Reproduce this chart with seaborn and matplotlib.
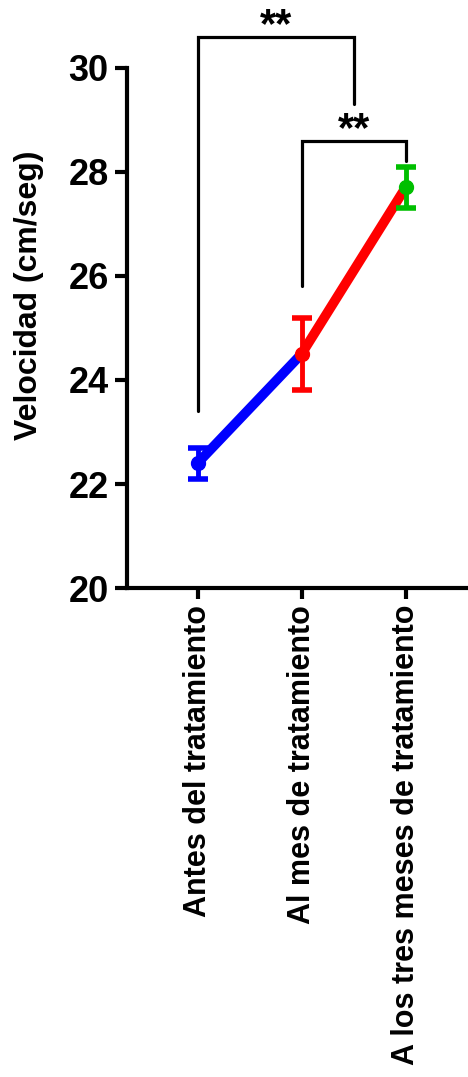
import matplotlib
matplotlib.use("Agg")
import matplotlib.pyplot as plt
import seaborn as sns
import pandas as pd

momentos = ["Antes del tratamiento", "Al mes de tratamiento", "A los tres meses de tratamiento"]
velocidad = [22.4, 24.5, 27.7]
error = [0.3, 0.7, 0.4]
colores = ["#0000FF", "#FF0000", "#00BF00"]

# comparaciones: (desde, hasta, altura_izq, altura_der, techo, texto)
comparaciones = [
    (0, 1.5, 23.4, 29.3, 30.6, "**"),
    (1, 2, 25.8, 28.2, 28.6, "**"),
]

sns.set_style("ticks")
plt.rcParams["font.family"] = ["Liberation Sans", "DejaVu Sans"]
plt.rcParams["font.weight"] = "bold"
plt.rcParams["text.color"] = "black"
plt.rcParams["axes.labelcolor"] = "black"
plt.rcParams["xtick.color"] = "black"
plt.rcParams["ytick.color"] = "black"
plt.rcParams["axes.edgecolor"] = "black"

fig = plt.figure(figsize=(4.68, 10.77), dpi=100)
ax = fig.add_axes([0.271, 0.454, 0.729, 0.483])

# tramos de la linea (azul y rojo)
tramos = pd.DataFrame({
    "pos": [0, 1, 1, 2],
    "valor": [velocidad[0], velocidad[1], velocidad[1], velocidad[2]],
    "tramo": ["a", "a", "b", "b"],
})
sns.lineplot(data=tramos, x="pos", y="valor", hue="tramo", palette=colores[:2],
             lw=7, legend=False, ax=ax, solid_capstyle="butt")

for i, (v, e, c) in enumerate(zip(velocidad, error, colores)):
    eb = ax.errorbar(i, v, yerr=e, fmt="o", color=c, ms=10, elinewidth=3.5,
                     capsize=7, capthick=4, zorder=5)
    for cap in eb[1]:
        cap.set_solid_capstyle("round")

for x0, x1, h0, h1, techo, texto in comparaciones:
    ax.plot([x0, x0, x1, x1], [h0, techo, techo, h1], color="black", lw=2.3,
            clip_on=False, solid_joinstyle="miter", zorder=6)
    ax.text((x0 + x1) / 2, techo + 0.0, texto, ha="center", va="baseline",
            fontsize=30, fontweight="bold", clip_on=False)

ax.set_xlim(-0.68, 2.6)
ax.set_ylim(20, 30)
ax.set_yticks([20, 22, 24, 26, 28, 30])
ax.set_xticks([0, 1, 2])
ax.set_xticklabels(momentos, rotation=90, fontsize=22, fontweight="bold")
ax.tick_params(axis="y", labelsize=26, width=3, length=9, pad=4)
ax.tick_params(axis="x", width=3, length=8, pad=4)
for lab in ax.get_yticklabels():
    lab.set_fontweight("bold")
ax.set_xlabel("")
ax.set_ylabel("Velocidad (cm/seg)", fontsize=23, fontweight="bold")
ax.yaxis.set_label_coords(-0.243, 0.563)
for lado in ["left", "bottom"]:
    ax.spines[lado].set_linewidth(3)
sns.despine(ax=ax)

fig.savefig("out.png", dpi=100)
